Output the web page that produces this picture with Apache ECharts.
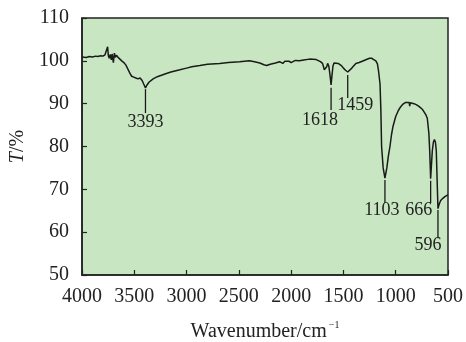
<!DOCTYPE html>
<html>
<head>
<meta charset="utf-8">
<script src="https://cdn.jsdelivr.net/npm/echarts@6/dist/echarts.min.js"></script>
<style>
  html, body { margin: 0; padding: 0; background: #ffffff; }
  #chart { width: 466px; height: 342px; }
</style>
</head>
<body>
<div id="chart"></div>
<script>
// FT-IR transmittance spectrum
const wavenumbers = [
  4000, 3960, 3930, 3900, 3870, 3850, 3820, 3800, 3780, 3765, 3755, 3748, 3740, 3730, 3720,
  3712, 3700, 3690, 3680, 3670, 3655, 3640, 3620, 3600, 3580, 3560, 3540, 3525, 3505, 3485,
  3465, 3445, 3425, 3410, 3393, 3380, 3360, 3320, 3280, 3200, 3150, 3064, 3000, 2950, 2873,
  2800, 2683, 2600, 2493, 2400, 2350, 2300, 2260, 2234, 2200, 2150, 2111, 2080, 2060, 2042,
  2020, 2000, 1960, 1921, 1880, 1825, 1760, 1743, 1720, 1700, 1690, 1683, 1670, 1660, 1651,
  1640, 1630, 1618, 1610, 1600, 1590, 1575, 1550, 1520, 1500, 1480, 1459, 1440, 1420, 1381,
  1350, 1320, 1280, 1250, 1230, 1210, 1190, 1175, 1165, 1150, 1142, 1135, 1120, 1103, 1085,
  1070, 1055, 1040, 1025, 1000, 975, 952, 930, 905, 889, 872, 866, 861, 845, 825,
  800, 775, 746, 729, 710, 698, 683, 675, 666, 660, 650, 640, 630, 620, 612,
  605, 596, 588, 580, 570, 550, 530, 510, 500
];
const transmittance = [
  100.9, 100.8, 101.0, 100.9, 101.1, 101.0, 101.2, 101.1, 101.4, 101.0, 103.3, 101.2, 100.6, 101.5, 100.2,
  101.6, 99.6, 101.8, 100.8, 101.3, 100.8, 100.4, 100.0, 99.6, 99.0, 98.0, 97.0, 96.4, 96.2, 96.0,
  95.8, 96.0, 95.4, 94.6, 93.7, 94.3, 95.0, 95.8, 96.3, 97.0, 97.4, 97.9, 98.3, 98.6, 98.9,
  99.2, 99.4, 99.6, 99.8, 100.0, 99.8, 99.5, 99.1, 98.9, 99.2, 99.5, 99.8, 99.4, 99.9, 99.5,
  99.9, 99.6, 100.1, 100.0, 100.2, 100.4, 100.3, 100.1, 99.8, 99.4, 98.6, 97.9, 97.6, 98.6, 99.4,
  98.8, 97.0, 94.4, 96.5, 98.8, 99.5, 99.7, 99.4, 98.9, 98.3, 97.8, 97.4, 97.7, 98.3, 99.4,
  99.6, 99.9, 100.3, 100.6, 100.6, 100.3, 100.0, 99.3, 97.8, 94.6, 88.5, 80.0, 75.0, 72.6, 75.0,
  77.8, 80.0, 82.8, 84.8, 87.0, 88.4, 89.3, 89.9, 90.3, 90.4, 90.3, 89.4, 90.2, 90.3, 90.0,
  89.7, 89.3, 88.7, 88.1, 87.3, 86.6, 83.1, 79.0, 72.5, 75.0, 79.0, 81.0, 81.6, 81.0, 79.0,
  73.0, 65.5, 66.2, 66.8, 67.4, 67.9, 68.3, 68.6, 68.7
];

// Peak annotations: label, position, marker top / bottom (in %T)
const peakLabels = ['3393', '1618', '1459', '1103', '666', '596'];
const peakWavenumbers = [3393, 1618, 1459, 1103, 666, 596];
const markerTop = [93.4, 93.7, 96.7, 72.2, 72.0, 65.2];
const markerBottom = [87.8, 88.5, 91.3, 66.8, 66.8, 58.6];

// label placement relative to the lower end of each marker (px)
const labelOffsets = [[0, 9], [-11, 10], [7.5, 7], [-3, 7], [-12, 7], [-10, 7]];

const serif = '"Liberation Serif", "Times New Roman", serif';
const ink = '#1a1a1a';

const chart = echarts.init(document.getElementById('chart'), null, { renderer: 'canvas' });

const spectrum = wavenumbers.map((w, i) => [w, transmittance[i]]);
const peaks = peakWavenumbers.map((w, i) => [w, markerTop[i], markerBottom[i], i]);

chart.setOption({
  animation: false,
  backgroundColor: '#ffffff',
  grid: {
    left: 82, top: 18, right: 18, bottom: 67,
    containLabel: false,
    outerBoundsMode: 'none',
    show: true,
    backgroundColor: '#c8e6c2',
    borderColor: '#222',
    borderWidth: 1.5
  },
  xAxis: {
    type: 'value',
    inverse: true,
    min: 500, max: 4000, interval: 500,
    name: '{a|Wavenumber/cm}{s|−1}',
    nameLocation: 'middle',
    nameGap: 45,
    nameTextStyle: {
      rich: {
        a: { fontFamily: serif, fontSize: 20, color: '#222' },
        s: { fontFamily: serif, fontSize: 10, color: '#222', padding: [0, 0, 14, 2] }
      }
    },
    axisLine: { show: true, lineStyle: { color: '#222', width: 1.5 } },
    axisTick: { show: true, inside: true, length: 5, lineStyle: { color: '#222', width: 1.2 } },
    axisLabel: {
      fontFamily: serif, fontSize: 20, color: '#222', margin: 12,
      formatter: v => String(v)
    },
    splitLine: { show: false }
  },
  yAxis: {
    type: 'value',
    min: 50, max: 110, interval: 10,
    name: '{i|T}{n|/%}',
    nameLocation: 'middle',
    nameGap: 53,
    nameTextStyle: {
      rich: {
        i: { fontFamily: serif, fontSize: 20, fontStyle: 'italic', color: '#222' },
        n: { fontFamily: serif, fontSize: 20, color: '#222' }
      }
    },
    axisLine: { show: true, lineStyle: { color: '#222', width: 1.5 } },
    axisTick: { show: true, inside: true, length: 5, lineStyle: { color: '#222', width: 1.2 } },
    axisLabel: {
      fontFamily: serif, fontSize: 20, color: '#222', margin: 13,
      formatter: v => String(v)
    },
    splitLine: { show: false }
  },
  series: [
    {
      type: 'line',
      data: spectrum,
      showSymbol: false,
      symbol: 'none',
      lineStyle: { color: ink, width: 1.5 },
      z: 3
    },
    {
      type: 'custom',
      data: peaks,
      z: 4,
      renderItem: function (params, api) {
        const i = api.value(3);
        const p1 = api.coord([api.value(0), api.value(1)]);
        const p2 = api.coord([api.value(0), api.value(2)]);
        const off = labelOffsets[i];
        return {
          type: 'group',
          children: [
            {
              type: 'line',
              shape: { x1: p1[0], y1: p1[1], x2: p2[0], y2: p2[1] },
              style: { stroke: ink, lineWidth: 1.3 }
            },
            {
              type: 'text',
              x: p2[0] + off[0],
              y: p2[1] + off[1],
              style: {
                text: peakLabels[i],
                fontFamily: serif,
                fontSize: 18,
                fill: '#222',
                align: 'center',
                verticalAlign: 'middle'
              }
            }
          ]
        };
      }
    }
  ]
});
</script>
</body>
</html>
